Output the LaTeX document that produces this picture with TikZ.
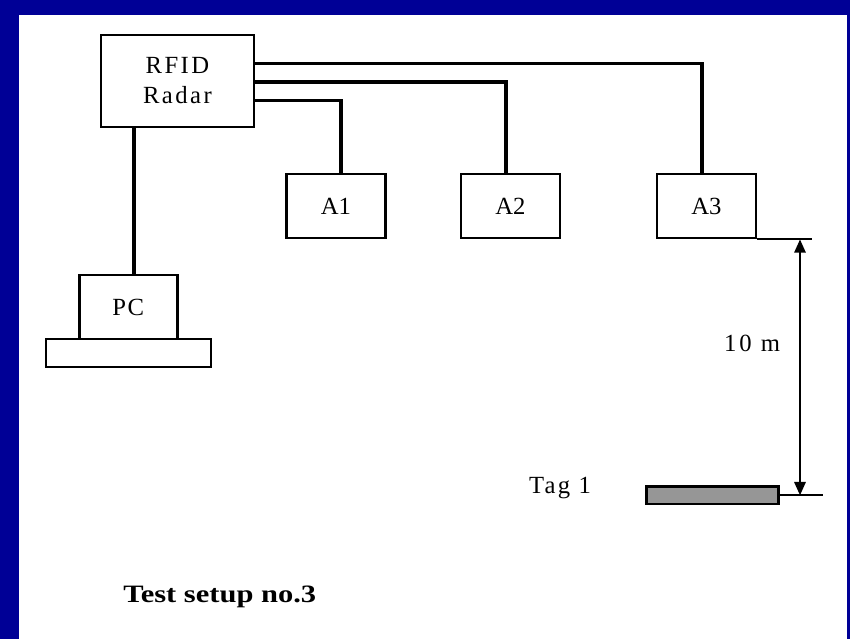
\documentclass[tikz,border=0pt]{standalone}
\usepackage{fontspec}
\usepackage{graphicx}
\setmainfont{Liberation Serif}
\usetikzlibrary{arrows.meta}
\definecolor{frameblue}{RGB}{0,0,150}
\definecolor{taggray}{RGB}{150,150,150}
\begin{document}
\begin{tikzpicture}[x=0.75pt,y=-0.75pt,
  box/.style={draw, line width=2.1pt, rectangle, inner sep=0pt, align=center,
    font=\fontsize{18.5}{22.5}\selectfont},
  abox/.style={box, minimum width={99*0.75pt}, minimum height={64*0.75pt}},
  wire/.style={line width=2.4pt},
  dimline/.style={line width=1.6pt},
  lbl/.style={inner sep=0pt, font=\fontsize{18.5}{22.5}\selectfont}]
\useasboundingbox (0,0) rectangle (850,639);
\fill[frameblue] (0,0) rectangle (850,639);
\fill[white] (19,15) rectangle (847,639);

% boxes
\node[box, minimum width={153*0.75pt}, minimum height={92*0.75pt}] (rfid) at (177.4,81)
  {\addfontfeature{LetterSpace=10}RFID\\\addfontfeature{LetterSpace=10}Radar};
\node[abox] (a1) at (336,206) {A1};
\node[abox] (a2) at (510.4,206) {A2};
\node[abox] (a3) at (706.5,206) {A3};
\node[box, minimum width={98*0.75pt}, minimum height={64*0.75pt}] (pc) at (128.3,307) {\addfontfeature{LetterSpace=6}PC};
\node[box, minimum width={165*0.75pt}, minimum height={28*0.75pt}] (base) at (128.5,353) {};
\node[box, fill=taggray, minimum width={132*0.75pt}, minimum height={17.5*0.75pt}] (tag) at (712.8,495.3) {};

% junction coordinates
\coordinate (j1) at (341,100.5);
\coordinate (j2) at (506,82);
\coordinate (j3) at (702,63.5);
\coordinate (jpc) at (134,0);
\coordinate (dimx) at (800,0);
\coordinate (e1) at (812,0);
\coordinate (e2) at (823,0);

% wires
\draw[wire] (rfid.east |- j1) -| (a1.north -| j1);
\draw[wire] (rfid.east |- j2) -| (a2.north -| j2);
\draw[wire] (rfid.east |- j3) -| (a3.north -| j3);
\draw[wire] (rfid.south -| jpc) -- (pc.north -| jpc);

% dimension
\draw[dimline] (a3.south east) -- (a3.south east -| e1);
\draw[dimline] (tag.east) -- (tag.east -| e2);
\draw[dimline, {Triangle[width=8.5pt,length=10pt]}-{Triangle[width=8.5pt,length=10pt]}]
  (a3.south -| dimx) -- (tag.east -| dimx);

% labels
\node[lbl] (dist) at (752,343) {\addfontfeature{LetterSpace=12}10 m};
\node[lbl] (taglbl) at (560,488) {\addfontfeature{LetterSpace=9}Tag 1};
\node[inner sep=0pt, anchor=west, font=\fontsize{18.75}{22}\selectfont\bfseries] (cap) at (123,597)
  {\scalebox{1.22}[1]{Test setup no.3}};
\end{tikzpicture}
\end{document}
